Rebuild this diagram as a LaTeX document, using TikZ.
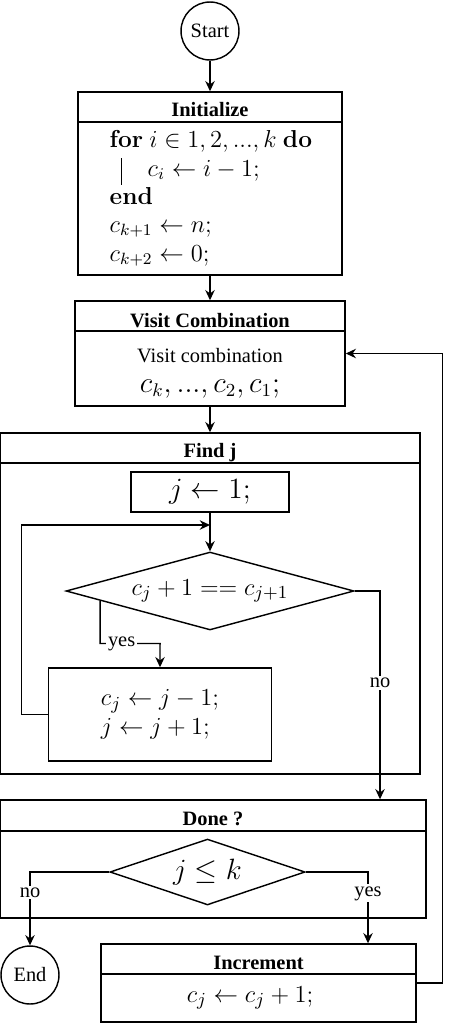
\documentclass[tikz,border=0pt]{standalone}
\usepackage[no-math]{fontspec}
\setmainfont{Liberation Serif}
\usetikzlibrary{shapes.geometric,arrows.meta,fit,calc}
\tikzset{
  box/.style={draw,inner sep=0pt},
  term/.style={draw,circle,minimum size=28.4pt,inner sep=0pt},
  decide/.style={draw,diamond,inner sep=0pt},
  flow/.style={-{Stealth[length=5pt,width=4.6pt]}},
  lbl/.style={fill=white,inner sep=1pt},
  hdr/.style={font=\bfseries,anchor=base},
  alg/.style={font=\large,anchor=base west,inner sep=0pt},
  mth/.style={font=\fontsize{13.5}{14.5}\selectfont},
  smth/.style={font=\fontsize{12.8}{14.2}\selectfont}
}
\begin{document}
\begin{tikzpicture}[x=0.49pt,y=-0.49pt,line width=0.7pt]
  \useasboundingbox (0,0) rectangle (455,1024);
  \node[term] (start) at (210,31) {Start};

  \node[box,fit={(78,92) (342,275)}] (init) {};
  \draw (init.west |- 0,122) -- (init.east |- 0,122);
  \node[hdr] (initT) at (210,117) {Initialize};
  \node[alg] (for) at (109,147) {$\mathbf{for}\ i \in 1, 2, ..., k\ \mathbf{do}$};
  \node[alg] (body) at (147,176) {$c_i \leftarrow i - 1;$};
  \draw[line width=0.4pt] (121,158) -- (121,185);
  \node[alg] (end) at (109,204) {$\mathbf{end}$};
  \node[alg] (ck1) at (109,232) {$c_{k+1} \leftarrow n;$};
  \node[alg] (ck2) at (109,261) {$c_{k+2} \leftarrow 0;$};

  \node[box,fit={(75,301) (345,406)}] (visit) {};
  \draw (visit.west |- 0,331) -- (visit.east |- 0,331);
  \node[hdr] (visitT) at (210,327) {Visit Combination};
  \node[anchor=base] (visitA) at (210,362) {Visit combination};
  \node[mth,anchor=base] (visitB) at (210,392) {$c_k, ..., c_2, c_1;$};

  \node[box,fit={(0,433) (420,774)}] (findj) {};
  \draw (findj.west |- 0,463) -- (findj.east |- 0,463);
  \node[hdr] (findjT) at (210,457) {Find j};
  \node[box,mth,minimum width=77.4pt,minimum height=19.6pt] (j1) at (210,492) {$j \leftarrow 1;$};
  \node[decide,smth,aspect=3.7,minimum width=141.1pt,minimum height=38.2pt] (dia1) at (210,591) {$c_j + 1 == c_{j+1}$};
  \node[box,smth,align=left,minimum width=109.3pt,minimum height=45.6pt] (upd) at (160,714.5)
    {$c_j \leftarrow j - 1;$\\$j \leftarrow j + 1;$};
  \coordinate (loop) at (210,525);

  \node[box,fit={(0,800) (426,918)}] (done) {};
  \draw (done.west |- 0,831) -- (done.east |- 0,831);
  \node[hdr] (doneT) at (213,825) {Done ?};
  \node[decide,font=\fontsize{15}{18}\selectfont,aspect=2.95,minimum width=95.6pt,minimum height=32.3pt] (dia2) at (207.5,872) {$j \leq k$};

  \node[term] (stop) at (30,975) {End};
  \node[box,fit={(101,944) (416,1022)}] (inc) {};
  \draw (inc.west |- 0,974) -- (inc.east |- 0,974);
  \node[hdr] (incT) at (258.5,969) {Increment};
  \node[smth] (incB) at (250,998) {$c_j \leftarrow c_j + 1;$};

  \draw[flow] (start) -- (init);
  \draw[flow] (init) -- (visit);
  \draw[flow] (visit) -- (findj);
  \draw[flow] (j1) -- (dia1);
  \draw[flow] (upd.west) -- ++(-26,0) |- (loop);
  \draw[flow] ($(dia1.west)!0.24!(dia1.south)$) |- node[lbl,pos=0.68] (yes1) {yes} ++(60,43) -- (upd.north);
  \draw[flow] (dia1.east) -| node[lbl,pos=0.72] (no1) {no} (done.north -| 380,0);
  \draw[flow] (dia2.west) -| node[lbl,pos=0.64] (no2) {no} (stop);
  \draw[flow] (dia2.east) -| node[lbl,pos=0.65] (yes2) {yes} (inc.north -| 368,0);
  \draw[flow] (inc.east) -- ++(26,0) |- (visit.east);
\end{tikzpicture}
\end{document}
